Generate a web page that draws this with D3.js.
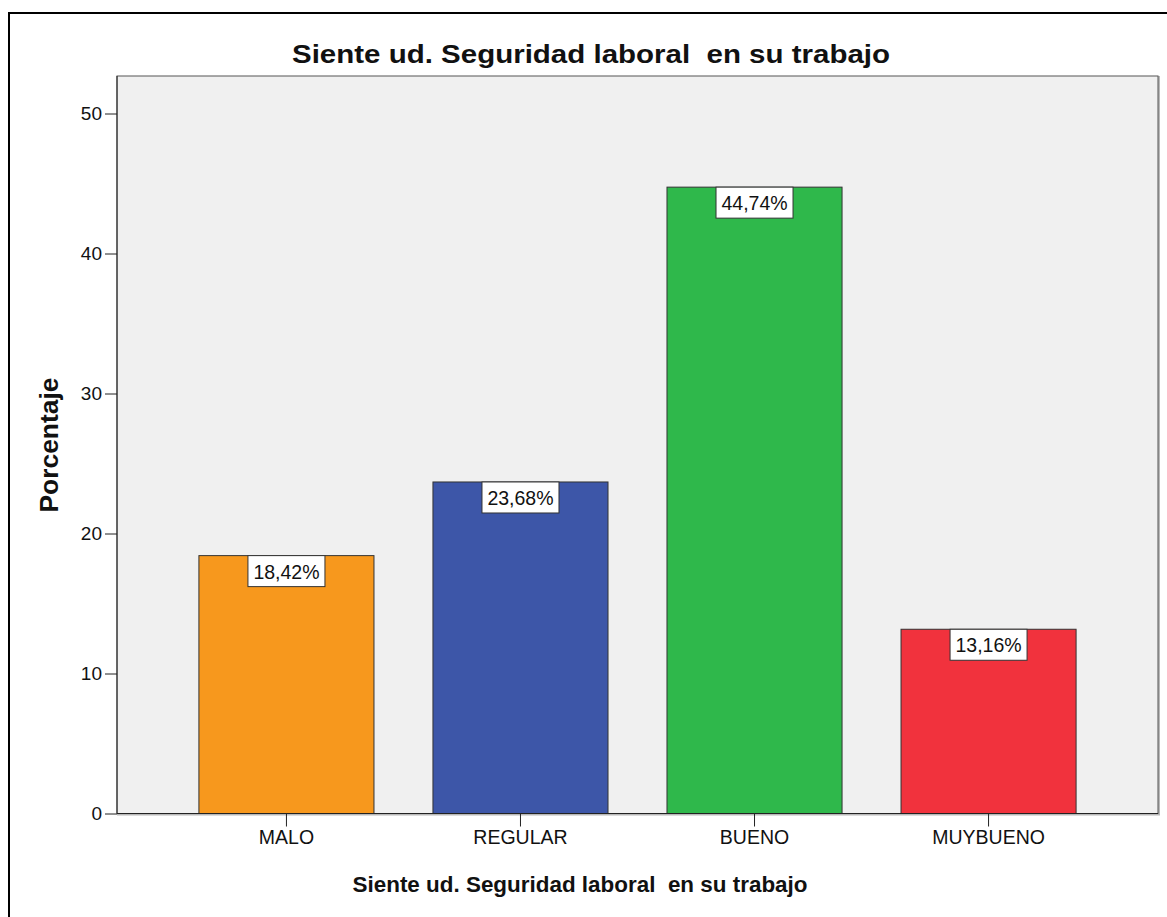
<!DOCTYPE html>
<html>
<head>
<meta charset="utf-8">
<script src="https://cdn.jsdelivr.net/npm/d3@7"></script>
<style>
  html, body { margin: 0; padding: 0; background: #fff; }
  svg { display: block; }
  text { font-family: Arial, "Liberation Sans", sans-serif; fill: #111; }
</style>
</head>
<body>
<svg id="chart" width="1167" height="917"></svg>
<script>
// Survey result: share of respondents by perceived job security
const categories = ["MALO", "REGULAR", "BUENO", "MUYBUENO"];
const percentages = [18.42, 23.68, 44.74, 13.16];
const barColors = ["#F7981D", "#3D56A8", "#2FB84B", "#F1323D"];
const yTicks = [0, 10, 20, 30, 40, 50];
const chartTitle = "Siente ud. Seguridad laboral  en su trabajo";
const xTitle = "Siente ud. Seguridad laboral  en su trabajo";
const yTitle = "Porcentaje";

const FONT = "Arial, 'Liberation Sans', sans-serif";
const svg = d3.select("#chart");

// outer frame
svg.append("rect")
  .attr("x", 9).attr("y", 13)
  .attr("width", 1200).attr("height", 1000)
  .attr("fill", "none").attr("stroke", "#000").attr("stroke-width", 2);

const plot = { left: 117, right: 1158, top: 76, bottom: 813.5 };

const x = d3.scaleBand()
  .domain(categories)
  .range([plot.left, plot.right])
  .paddingInner(0.252)
  .paddingOuter(0.35);

const y = d3.scaleLinear()
  .domain([0, 50])
  .range([plot.bottom, 113.5]);

// plot background with soft shadow on top/right
svg.append("rect")
  .attr("x", plot.left + 1).attr("y", plot.top + 1)
  .attr("width", plot.right - plot.left).attr("height", plot.bottom - plot.top)
  .attr("fill", "none").attr("stroke", "#b8b8b8").attr("stroke-width", 2);
svg.append("rect")
  .attr("x", plot.left).attr("y", plot.top)
  .attr("width", plot.right - plot.left).attr("height", plot.bottom - plot.top)
  .attr("fill", "#f0f0f0").attr("stroke", "#555").attr("stroke-width", 1);

// bars
svg.append("g").selectAll("rect")
  .data(categories)
  .join("rect")
  .attr("x", d => x(d))
  .attr("y", (d, i) => y(percentages[i]))
  .attr("width", x.bandwidth())
  .attr("height", (d, i) => y(0) - y(percentages[i]))
  .attr("fill", (d, i) => barColors[i])
  .attr("stroke", "#333").attr("stroke-width", 1);

// value labels
const fmt = v => v.toFixed(2).replace(".", ",") + "%";
const labels = svg.append("g").selectAll("g")
  .data(categories)
  .join("g")
  .attr("transform", (d, i) => `translate(${x(d) + x.bandwidth() / 2},${y(percentages[i])})`);
labels.append("rect")
  .attr("x", -38.5).attr("y", 0)
  .attr("width", 77).attr("height", 31)
  .attr("fill", "#fff").attr("stroke", "#333").attr("stroke-width", 1);
labels.append("text")
  .attr("text-anchor", "middle")
  .attr("y", 23)
  .attr("font-size", 19.5)
  .text((d, i) => fmt(percentages[i]));

// y axis
const yAxis = d3.axisLeft(y).tickValues(yTicks).tickSize(12).tickPadding(3);
const gy = svg.append("g").attr("transform", `translate(${plot.left},0)`).call(yAxis);
gy.select(".domain").remove();
gy.selectAll("line").attr("stroke", "#222");
gy.selectAll("text").attr("font-size", 19).attr("font-family", FONT).attr("fill", "#222");
svg.append("line")
  .attr("x1", plot.left).attr("x2", plot.left)
  .attr("y1", plot.top).attr("y2", plot.bottom)
  .attr("stroke", "#222");

// x axis
const xAxis = d3.axisBottom(x).tickSize(13).tickPadding(4);
const gx = svg.append("g").attr("transform", `translate(0,${plot.bottom})`).call(xAxis);
gx.select(".domain").remove();
gx.selectAll("line").attr("stroke", "#222");
gx.selectAll("text").attr("font-size", 19.5).attr("font-family", FONT).attr("fill", "#222");
svg.append("line")
  .attr("x1", plot.left).attr("x2", plot.right)
  .attr("y1", plot.bottom).attr("y2", plot.bottom)
  .attr("stroke", "#222");

// titles
svg.append("text")
  .attr("x", 591).attr("y", 63)
  .attr("text-anchor", "middle")
  .attr("font-size", 26.5).attr("font-weight", "bold")
  .attr("textLength", 598).attr("lengthAdjust", "spacingAndGlyphs")
  .style("white-space", "pre")
  .text(chartTitle);

svg.append("text")
  .attr("x", 580).attr("y", 892)
  .attr("text-anchor", "middle")
  .attr("font-size", 22).attr("font-weight", "bold")
  .attr("textLength", 455).attr("lengthAdjust", "spacingAndGlyphs")
  .style("white-space", "pre")
  .text(xTitle);

svg.append("text")
  .attr("transform", "translate(58,445) rotate(-90)")
  .attr("text-anchor", "middle")
  .attr("font-size", 25).attr("font-weight", "bold")
  .attr("textLength", 135).attr("lengthAdjust", "spacingAndGlyphs")
  .text(yTitle);
</script>
</body>
</html>
